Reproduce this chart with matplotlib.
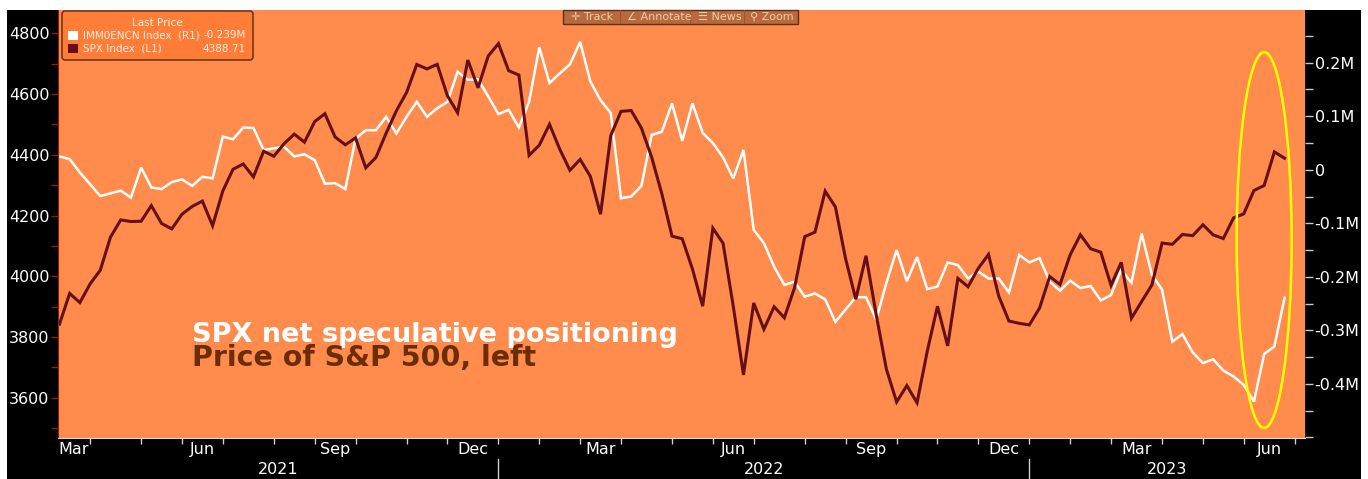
import numpy as np
import pandas as pd
import matplotlib
matplotlib.use("Agg")
from matplotlib import pyplot as plt
import matplotlib.dates as mdates
from matplotlib.patches import Rectangle, FancyBboxPatch, Ellipse
from matplotlib.ticker import MultipleLocator, FuncFormatter, NullFormatter
from matplotlib.transforms import blended_transform_factory, IdentityTransform

W, H, DPI = 1368, 479, 100

ORANGE = "#ff8c4c"
MAROON = "#650f1b"
BROWN_TXT = "#6b2c06"

# weekly observations (Friday slots), last one is the live Jun 20 value
dates = pd.date_range("2021-03-05", "2023-06-23", freq="W-FRI")
grid = pd.date_range("2021-03-05", "2023-07-07", freq="W-FRI")

spx = [3841.94, 3943.34, 3913.10, 3974.54, 4019.87, 4128.80, 4185.47, 4180.17, 4181.17, 4232.60,
       4173.85, 4155.86, 4204.11, 4229.89, 4247.44, 4166.45, 4280.70, 4352.34, 4369.55, 4327.16,
       4411.79, 4395.26, 4436.52, 4468.00, 4441.67, 4509.37, 4535.43, 4458.58, 4432.99, 4455.48,
       4357.04, 4391.34, 4471.37, 4544.90, 4605.38, 4697.53, 4682.85, 4697.96, 4594.62, 4538.43,
       4712.02, 4620.64, 4725.79, 4766.18,
       4677.03, 4662.85, 4397.94, 4431.85, 4500.53, 4418.64, 4348.87, 4384.65, 4328.87, 4204.31,
       4463.12, 4543.06, 4545.86, 4488.28, 4392.59, 4271.78, 4131.93, 4123.34, 4023.89, 3901.36,
       4158.24, 4108.54, 3900.86, 3674.84, 3911.74, 3825.33, 3899.38, 3863.16, 3961.63, 4130.29,
       4145.19, 4280.15, 4228.48, 4057.66, 3924.26, 4067.36, 3873.33, 3693.23, 3585.62, 3639.66,
       3583.07, 3752.75, 3901.06, 3770.55, 3992.93, 3965.34, 4026.12, 4071.70, 3934.38, 3852.36,
       3844.82, 3839.50,
       3895.08, 3999.09, 3972.61, 4070.56, 4136.48, 4090.46, 4079.09, 3970.04, 4045.64, 3861.59,
       3916.64, 3970.99, 4109.31, 4105.02, 4137.64, 4133.52, 4169.48, 4136.25, 4124.08, 4191.98,
       4205.45, 4282.37, 4298.86, 4409.59, 4388.71]

# IMM net non-commercial positions, thousands of contracts
imm = [25, 20, -5, -27, -49, -44, -39, -52, 4, -33,
       -36, -23, -18, -30, -13, -16, 62, 57, 79, 78,
       37, 40, 43, 25, 29, 18, -26, -25, -36, 58,
       74, 74, 99, 68, 99, 127, 99, 115, 127, 183,
       168, 169, 137, 104, 112, 79, 127, 229, 162, 180,
       197, 239, 165, 130, 106, -53, -50, -30, 65, 71,
       124, 54, 124, 69, 50, 23, -16, 37, -112, -137,
       -181, -215, -209, -237, -231, -242, -284, -261, -238, -238,
       -280, -211, -150, -208, -163, -223, -218, -173, -178, -203,
       -190, -203, -203, -229, -159, -173, -165, -209, -226, -207,
       -221, -217, -244, -234, -187, -211, -119, -196, -224, -321,
       -307, -341, -361, -354, -375, -386, -402, -433, -344, -330,
       -239]

quarter_months = [3, 6, 9, 12]
xlim = (pd.Timestamp("2021-03-04"), pd.Timestamp("2023-07-07"))

fig = plt.figure(figsize=(W / DPI, H / DPI), dpi=DPI)
fig.patch.set_facecolor("white")
fig.add_artist(Rectangle((7 / W, 0), (1361 - 7) / W, (H - 10) / H, transform=fig.transFigure,
                         facecolor="black", edgecolor="none", zorder=-10))

ax = fig.add_axes([58 / W, 1 - 438 / H, (1305 - 58) / W, (438 - 10) / H])
ax2 = ax.twinx()
ax.set_zorder(ax2.get_zorder() + 1)
ax.patch.set_visible(False)
ax2.patch.set_visible(True)
ax2.patch.set_facecolor(ORANGE)

ax2.plot(dates, imm, color="white", lw=1.8, solid_joinstyle="miter")
ax.plot(dates, spx, color=MAROON, lw=2.2, solid_joinstyle="miter")

ax.set_xlim(*xlim)
ax.set_ylim(3467, 4877)
ax2.set_ylim(-501, 298.5)

for s in ax2.spines.values():
    s.set_visible(False)
ax.spines["top"].set_visible(False)
ax.spines["right"].set_visible(False)
ax.spines["left"].set_color("#8b1c1c")
ax.spines["bottom"].set_color("#d9d9d9")

ax.yaxis.set_major_locator(MultipleLocator(200))
ax.yaxis.set_minor_locator(MultipleLocator(100))
ax.tick_params(axis="y", which="both", colors="#8b1c1c", length=5, width=1, pad=1,
               labelcolor="white", labelsize=11.5)


def fmt_m(v, pos):
    if abs(v) < 1e-9:
        return "0"
    if v < -450:
        return ""
    return "%.1fM" % (v / 1000.0)


ax2.yaxis.set_major_locator(MultipleLocator(100))
ax2.yaxis.set_minor_locator(MultipleLocator(50))
ax2.yaxis.set_major_formatter(FuncFormatter(fmt_m))
ax2.tick_params(axis="y", which="both", colors="#c8c8c8", length=6, width=1, pad=1,
                labelcolor="white", labelsize=11.5)

# month boundaries: last weekly slot of each month
bounds = [grid[i] for i in range(len(grid) - 1) if grid[i + 1].month != grid[i].month]
label_pos, label_txt = [], []
prev = xlim[0]
for b in bounds:
    if b.month in quarter_months:
        label_pos.append(prev + (b - prev) / 2)
        label_txt.append(b.strftime("%b"))
    prev = b

ax.set_xticks(bounds)
ax.xaxis.set_major_formatter(NullFormatter())
ax.set_xticks(label_pos, minor=True)
ax.set_xticklabels(label_txt, minor=True)
ax.tick_params(axis="x", which="major", colors="#d0d0d0", length=4, width=1)
ax.tick_params(axis="x", which="minor", length=0, pad=3, labelcolor="white", labelsize=11.5)

trans = blended_transform_factory(ax.transData, ax.transAxes)
year_ends = [b for b in bounds if b.month == 12]
edges = [xlim[0]] + year_ends + [xlim[1]]
years = [xlim[0].year] + [b.year + 1 for b in year_ends]
for i, yr in enumerate(years):
    mid = edges[i] + (edges[i + 1] - edges[i]) / 2
    ax.text(mid, -0.073, str(yr), transform=trans, ha="center", va="center",
            color="white", fontsize=11.5)
for b in year_ends:
    ax.plot([b, b], [-0.049, -0.1], transform=trans, color="#d0d0d0", lw=1, clip_on=False)

# highlight ellipse
ell_center = (mdates.date2num(pd.Timestamp("2023-06-09")), 4119)
ax.add_patch(Ellipse(ell_center, width=37.7, height=1238, fill=False,
                     edgecolor="#ffff00", lw=1.8, zorder=5))

# annotation text
fig.text(192 / W, 1 - 342 / H, "SPX net speculative positioning", color="white",
         fontsize=19.5, fontweight="bold", va="baseline", ha="left")
fig.text(192 / W, 1 - 366 / H, "Price of S&P 500, left", color=BROWN_TXT,
         fontsize=20.5, fontweight="bold", va="baseline", ha="left")

# legend box (pixel coordinates)
px = IdentityTransform()
fig.add_artist(FancyBboxPatch((62, H - 60), 191, 49, boxstyle="round,pad=0,rounding_size=3",
                              transform=px, facecolor="#ff7d36", edgecolor="#5a2a10", lw=1, zorder=10))
fig.text(157 / W, 1 - 23 / H, "Last Price", color="#fff0e4", fontsize=7.5, ha="center", va="center", zorder=11)
fig.add_artist(Rectangle((68, H - 40), 10, 9, transform=px, facecolor="white", edgecolor="none", zorder=11))
fig.add_artist(Rectangle((68, H - 53), 10, 9, transform=px, facecolor=MAROON, edgecolor="none", zorder=11))
fig.text(83 / W, 1 - 35.5 / H, "IMM0ENCN Index  (R1)", color="#fff0e4", fontsize=7.5, ha="left", va="center", zorder=11)
fig.text(246 / W, 1 - 35.5 / H, "-0.239M", color="#fff0e4", fontsize=7.5, ha="right", va="center", zorder=11)
fig.text(83 / W, 1 - 48.5 / H, "SPX Index  (L1)", color="#fff0e4", fontsize=7.5, ha="left", va="center", zorder=11)
fig.text(246 / W, 1 - 48.5 / H, "4388.71", color="#fff0e4", fontsize=7.5, ha="right", va="center", zorder=11)

# toolbar
fig.add_artist(Rectangle((563, H - 24), 235, 14, transform=px, facecolor="#b86a3e",
                         edgecolor="#5a3018", lw=1, zorder=10))
for sx in [620, 690, 744]:
    fig.add_artist(Rectangle((sx, H - 24), 1, 14, transform=px, facecolor="#9a5530",
                             edgecolor="none", zorder=11))
for lx, s in [(571, "\u271b Track"), (627, "\u2220 Annotate"), (698, "\u2630 News"), (750, "\u26b2 Zoom")]:
    fig.text(lx / W, 1 - 16.5 / H, s, color="#f2c9a8", fontsize=8, ha="left", va="center", zorder=12)

fig.savefig("out.png", dpi=DPI)
